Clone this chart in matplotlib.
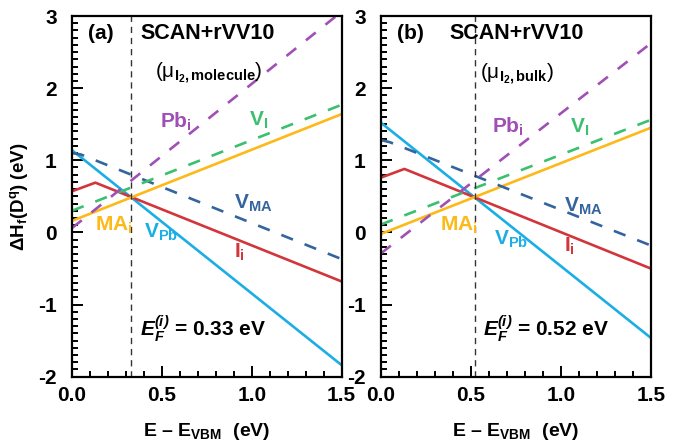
import numpy as np
import matplotlib.pyplot as plt
from matplotlib.ticker import MultipleLocator

plt.rcParams['font.family'] = ['Liberation Sans', 'DejaVu Sans']
plt.rcParams['mathtext.fontset'] = 'custom'
plt.rcParams['mathtext.rm'] = 'Liberation Sans'
plt.rcParams['mathtext.bf'] = 'Liberation Sans:bold'
plt.rcParams['mathtext.it'] = 'Liberation Sans:italic'
plt.rcParams['mathtext.bfit'] = 'Liberation Sans:bold:italic'
plt.rcParams['lines.scale_dashes'] = False

# formation energies vs Fermi level (eV), read at the kinks / ends
x_lin = [0.0, 1.5]
x_ii = [0.0, 0.13, 1.5]
x_vma = [0.0, 0.05, 1.5]

# (a) mu_I2 from molecule
vpb_a = [1.14, -1.84]
ii_a = [0.57, 0.69, -0.68]
mai_a = [0.16, 1.64]
vma_a = [1.10, 1.08, -0.37]
vi_a = [0.30, 1.77]
pbi_a = [0.06, 3.06]
ef_a = 0.33

# (b) mu_I2 from bulk
vpb_b = [1.52, -1.46]
ii_b = [0.76, 0.88, -0.50]
mai_b = [-0.02, 1.45]
vma_b = [1.28, 1.25, -0.18]
vi_b = [0.11, 1.56]
pbi_b = [-0.29, 2.62]
ef_b = 0.52

c_vpb = '#1aaee5'
c_ii = '#d2353a'
c_mai = '#fdb918'
c_vma = '#34649e'
c_vi = '#3cbf6e'
c_pbi = '#a050b5'

dash = (9, 9)

fig = plt.figure(figsize=(6.81, 4.46), dpi=100)
ax_a = fig.add_axes([0.1057, 0.1554, 0.396, 0.8087])
ax_b = fig.add_axes([0.5595, 0.1554, 0.396, 0.8087])


def draw_panel(ax, vpb, ii, mai, vma, vi, pbi, ef, tag, mu_txt, lab):
    ax.plot(x_lin, vpb, color=c_vpb, lw=1.9)
    ax.plot(x_ii, ii, color=c_ii, lw=1.9)
    ax.plot(x_lin, mai, color=c_mai, lw=1.9)
    ax.plot(x_vma, vma, color=c_vma, lw=1.9, dashes=dash)
    ax.plot(x_lin, vi, color=c_vi, lw=1.9, dashes=dash)
    ax.plot(x_lin, pbi, color=c_pbi, lw=1.9, dashes=dash)
    ax.axvline(ef, color='#333333', lw=1.0, dashes=(4.5, 3.5))

    ax.set_xlim(0, 1.5)
    ax.set_ylim(-2, 3)
    ax.xaxis.set_major_locator(MultipleLocator(0.5))
    ax.xaxis.set_minor_locator(MultipleLocator(0.1))
    ax.yaxis.set_major_locator(MultipleLocator(1))
    ax.yaxis.set_minor_locator(MultipleLocator(0.1))
    ax.set_xticks([0.0, 0.5, 1.0, 1.5])
    ax.set_xticklabels(['0.0', '0.5', '1.0', '1.5'])
    ax.set_yticks([-2, -1, 0, 1, 2, 3])
    ax.set_yticklabels(['-2', '-1', '0', '1', '2', '3'])
    ax.tick_params(which='both', direction='in', top=False, right=False,
                   width=1.4, labelsize=15)
    ax.tick_params(which='major', length=8)
    ax.tick_params(which='minor', length=4)
    ax.tick_params(axis='x', pad=7)
    ax.tick_params(axis='y', pad=11)
    for lbl in ax.get_xticklabels() + ax.get_yticklabels():
        lbl.set_fontweight('bold')
    for sp in ax.spines.values():
        sp.set_linewidth(1.6)

    ax.text(0.09, 2.76, tag, fontsize=15, fontweight='bold', va='center')
    ax.text(0.755, 2.76, 'SCAN+rVV10', fontsize=15.5, fontweight='bold',
            ha='center', va='center')
    ax.text(lab['mu'][0], lab['mu'][1], mu_txt, fontsize=15,
            ha='center', va='center')

    ax.text(*lab['pbi'], r'$\mathbf{Pb_i}$', color=c_pbi, fontsize=15, va='center')
    ax.text(*lab['vi'], r'$\mathbf{V_I}$', color=c_vi, fontsize=15, va='center')
    ax.text(*lab['vma'], r'$\mathbf{V_{MA}}$', color=c_vma, fontsize=15, va='center')
    ax.text(*lab['mai'], r'$\mathbf{MA_i}$', color=c_mai, fontsize=15, va='center')
    ax.text(*lab['vpb'], r'$\mathbf{V_{Pb}}$', color=c_vpb, fontsize=15, va='center')
    ax.text(*lab['ii'], r'$\mathbf{I_i}$', color=c_ii, fontsize=15, va='center')
    ax.text(*lab['ef'], r'$\mathbfit{E_F^{(i)}}$' + ' = %.2f eV' % ef,
            fontsize=15, fontweight='bold', va='center')

    ax.set_xlabel('E \u2013 E$_\\mathbf{VBM}$  (eV)', fontsize=14,
                  fontweight='bold', labelpad=11)


draw_panel(ax_a, vpb_a, ii_a, mai_a, vma_a, vi_a, pbi_a, ef_a, '(a)',
           '(\u03bc$_{\\mathbf{I_2,molecule}}$)',
           {'mu': (0.76, 2.22), 'pbi': (0.49, 1.53), 'vi': (0.985, 1.55),
            'vma': (0.90, 0.40), 'mai': (0.13, 0.10), 'vpb': (0.40, 0.0),
            'ii': (0.90, -0.28), 'ef': (0.38, -1.33)})
draw_panel(ax_b, vpb_b, ii_b, mai_b, vma_b, vi_b, pbi_b, ef_b, '(b)',
           '(\u03bc$_{\\mathbf{I_2,bulk}}$)',
           {'mu': (0.755, 2.20), 'pbi': (0.62, 1.46), 'vi': (1.05, 1.46),
            'vma': (1.02, 0.36), 'mai': (0.33, 0.10), 'vpb': (0.63, -0.10),
            'ii': (1.02, -0.20), 'ef': (0.57, -1.33)})

ax_a.set_ylabel('\u0394H$_\\mathbf{f}$(D$^\\mathbf{q}$) (eV)', fontsize=13.5,
                fontweight='bold', labelpad=6)

fig.savefig('out.png', dpi=100)
